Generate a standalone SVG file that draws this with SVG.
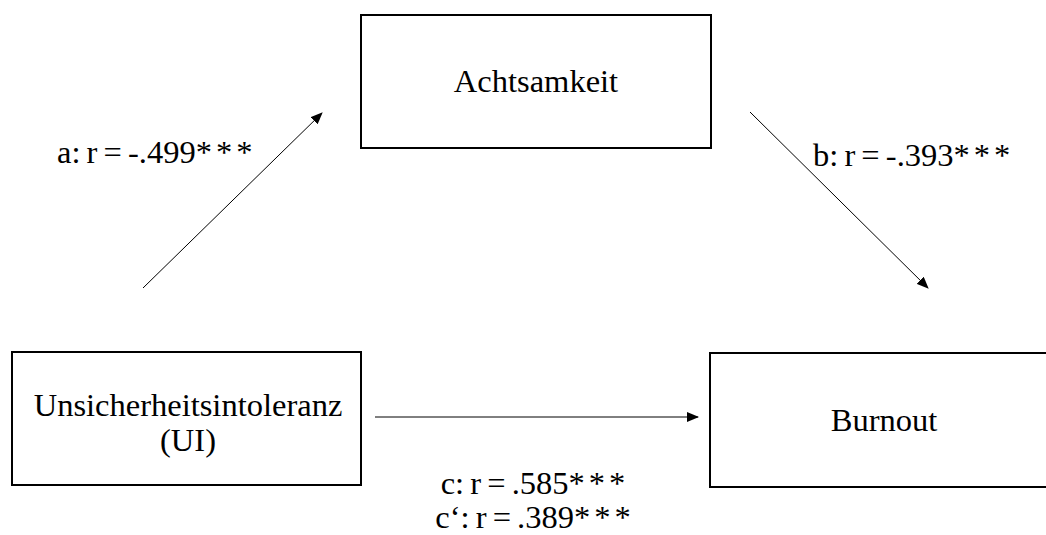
<svg xmlns="http://www.w3.org/2000/svg" width="1046" height="535" viewBox="0 0 1046 535">
<style>
.box{fill:#fff;stroke:#000;stroke-width:2}
.t{font-family:"Liberation Serif","Times New Roman",serif;font-size:32.5px;fill:#000}
.m{text-anchor:middle}
.lb{word-spacing:-2px}
.st{letter-spacing:4px}
.c{stroke:#000;stroke-width:1;fill:none;marker-end:url(#ah)}
</style>
<defs>
<marker id="ah" markerWidth="12" markerHeight="10" refX="11" refY="5" orient="auto" markerUnits="userSpaceOnUse">
<path d="M0,0 L12,5 L0,10 Z" fill="#000"/>
</marker>
</defs>
<rect width="1046" height="535" fill="#fff"/>
<g id="connectors">
<line class="c" x1="143" y1="288" x2="322" y2="113"/>
<line class="c" x1="750" y1="112" x2="928" y2="288"/>
<line class="c" x1="375" y1="417" x2="698" y2="417"/>
</g>
<g id="achtsamkeit">
<rect class="box" x="361" y="15" width="350" height="133"/>
<text class="t m" x="536" y="92">Achtsamkeit</text>
</g>
<g id="ui">
<rect class="box" x="12" y="352" width="349" height="133"/>
<text class="t m" x="188" y="416">Unsicherheitsintoleranz</text>
<text class="t m" x="188" y="451">(UI)</text>
</g>
<g id="burnout">
<rect class="box" x="710" y="353" width="345" height="134"/>
<text class="t m" x="884" y="431">Burnout</text>
</g>
<g id="labels">
<text class="t lb" x="57" y="163">a: r = -.499<tspan class="st">***</tspan></text>
<text class="t lb" x="813" y="166">b: r = -.393<tspan class="st">***</tspan></text>
<text class="t m lb" x="535" y="494">c: r = .585<tspan class="st">***</tspan></text>
<text class="t m lb" x="535" y="528">c‘: r = .389<tspan class="st">***</tspan></text>
</g>
</svg>
